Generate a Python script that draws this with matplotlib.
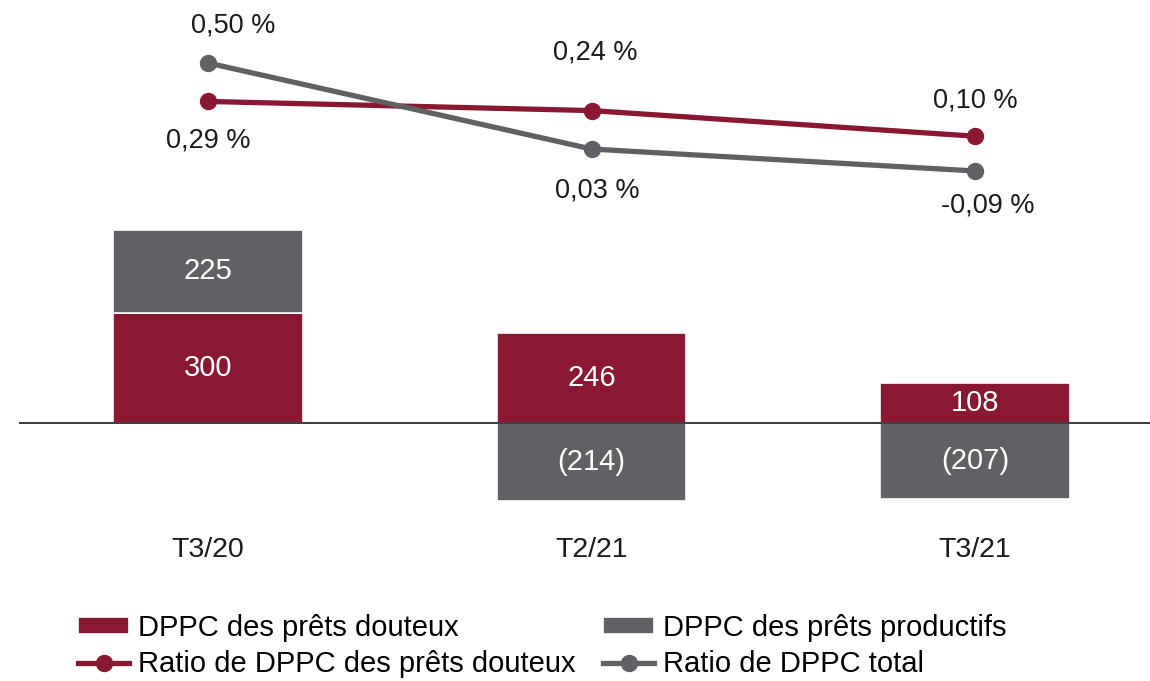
import matplotlib.pyplot as plt
from matplotlib.transforms import blended_transform_factory

RED, GRAY, INK = "#8A1832", "#5F6164", "#1a1a1a"
plt.rcParams.update({"font.family": ["Liberation Sans", "DejaVu Sans"], "font.size": 21})

quarters = ["T3/20", "T2/21", "T3/21"]
impaired = [300, 246, 108]          # DPPC des prêts douteux
performing = [225, -214, -207]      # DPPC des prêts productifs
ratio_impaired = [0.29, 0.24, 0.10]  # Ratio de DPPC des prêts douteux (%)
ratio_total = [0.50, 0.03, -0.09]    # Ratio de DPPC total (%)

# label offsets in pixels (dx, dy) for the line annotations
red_off = [(0, -39), (4, 58), (0, 36)]
gray_off = [(25, 38), (6, -41), (13, -35)]


def fmt_bar(v):
    return f"({abs(v)})" if v < 0 else f"{v}"


def fmt_pct(v):
    return f"{v:.2f}".replace(".", ",") + " %"


fig = plt.figure(figsize=(11.5, 6.81), dpi=100)
ax = fig.add_axes([0, 0, 1, 1])
ax.set_xlim(-0.5424, 2.4563)
ax.set_ylim(-703, 1152)
ax.axis("off")

x = range(len(quarters))
w = 0.493
ax.bar(x, impaired, w, color=RED, edgecolor="white", lw=1.2, zorder=2,
       label="DPPC des prêts douteux")
bottoms = [i if p > 0 else 0 for i, p in zip(impaired, performing)]
ax.bar(x, performing, w, bottom=bottoms, color=GRAY, edgecolor="white", lw=1.2,
       zorder=2, label="DPPC des prêts productifs")
ax.axhline(0, xmin=20 / 1150, color="#3c3c3c", lw=1.4, zorder=3)

for i, (r, p, b) in enumerate(zip(impaired, performing, bottoms)):
    ax.text(i, r / 2, fmt_bar(r), ha="center", va="center", color="white", zorder=4)
    ax.text(i, b + p / 2, fmt_bar(p), ha="center", va="center", color="white", zorder=4)

tr = blended_transform_factory(ax.transData, ax.transAxes)
for i, q in enumerate(quarters):
    ax.text(i, 1 - 550 / 681, q, transform=tr, ha="center", va="center",
            color=INK, fontsize=20.5)

ax2 = ax.twinx()
ax2.set_position([0, 0, 1, 1])
ax2.set_ylim(-2.877, 0.8443)
ax2.axis("off")
ax2.plot(x, ratio_impaired, color=RED, lw=3.8, marker="o", ms=11.5,
         label="Ratio de DPPC des prêts douteux", zorder=3)
ax2.plot(x, ratio_total, color=GRAY, lw=3.8, marker="o", ms=11.5,
         label="Ratio de DPPC total", zorder=3)

for i in x:
    for vals, offs in ((ratio_impaired, red_off), (ratio_total, gray_off)):
        dx, dy = offs[i]
        ax2.annotate(fmt_pct(vals[i]), (i, vals[i]), xytext=(dx * 0.72, dy * 0.72),
                     textcoords="offset points", ha="center", va="center",
                     color=INK, fontsize=19.5)

h1, l1 = ax.get_legend_handles_labels()
h2, l2 = ax2.get_legend_handles_labels()
handles = [h1[0], h2[0], h1[1], h2[1]]
labels = [l1[0], l2[0], l1[1], l2[1]]
fig.legend(handles, labels, ncol=2, loc="upper left",
           bbox_to_anchor=(78 / 1150, 1 - 614 / 681), frameon=False,
           borderpad=0, borderaxespad=0, handlelength=1.75, handletextpad=0.3,
           columnspacing=0.95, labelspacing=0.28, handleheight=0.5)

fig.savefig("out.png", dpi=100)
